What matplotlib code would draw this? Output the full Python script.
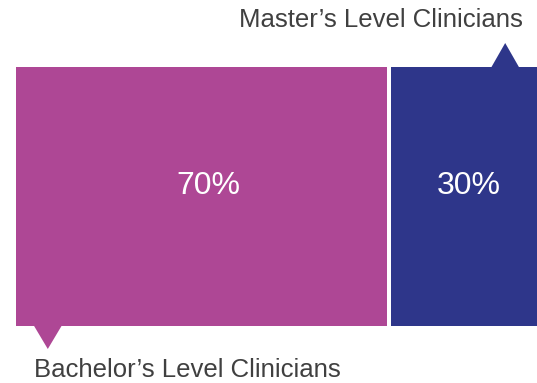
import matplotlib.pyplot as plt
from matplotlib.patches import Polygon

labels = ["Bachelor\u2019s Level Clinicians", "Master\u2019s Level Clinicians"]
values = [70, 30]
colors = ["#AE4795", "#2E368A"]
label_offsets = [1.3, -0.3]  # percent labels sit slightly off bar centre

plt.rcParams['font.family'] = ['Liberation Sans', 'DejaVu Sans']

fig = plt.figure(figsize=(5.37, 3.83), dpi=100)
ax = fig.add_axes([0, 0, 1, 1])
px = 5.3  # pixels per percent
ax.set_xlim(-16 / px, (537 - 16) / px)
ax.set_ylim(383, 0)
ax.axis('off')

gap = 4 / px
top, bottom = 67, 326
left = 0
for v, c, off in zip(values, colors, label_offsets):
    ax.bar(left, bottom - top, width=v, bottom=top,
           align='edge', color=c, linewidth=0)
    ax.text(left + v / 2 + off, 186, f"{v}%",
            color='white', fontsize=23, ha='center', va='center')
    left += v + gap

# pointer triangles
tw = 14 / px
ax.add_patch(Polygon([(6.0 - tw, bottom - 0.5), (6.0 + tw, bottom - 0.5), (6.0, 349)],
                     closed=True, color=colors[0], linewidth=0))
ax.add_patch(Polygon([(92.3 - tw, top + 0.5), (92.3 + tw, top + 0.5), (92.3, 43)],
                     closed=True, color=colors[1], linewidth=0))

ax.text(18 / px, 370, labels[0], color='#404040', fontsize=18.5, ha='left', va='center')
ax.text((523 - 16) / px, 20, labels[1], color='#404040', fontsize=18.5, ha='right', va='center')

fig.savefig("out.png", dpi=100)
